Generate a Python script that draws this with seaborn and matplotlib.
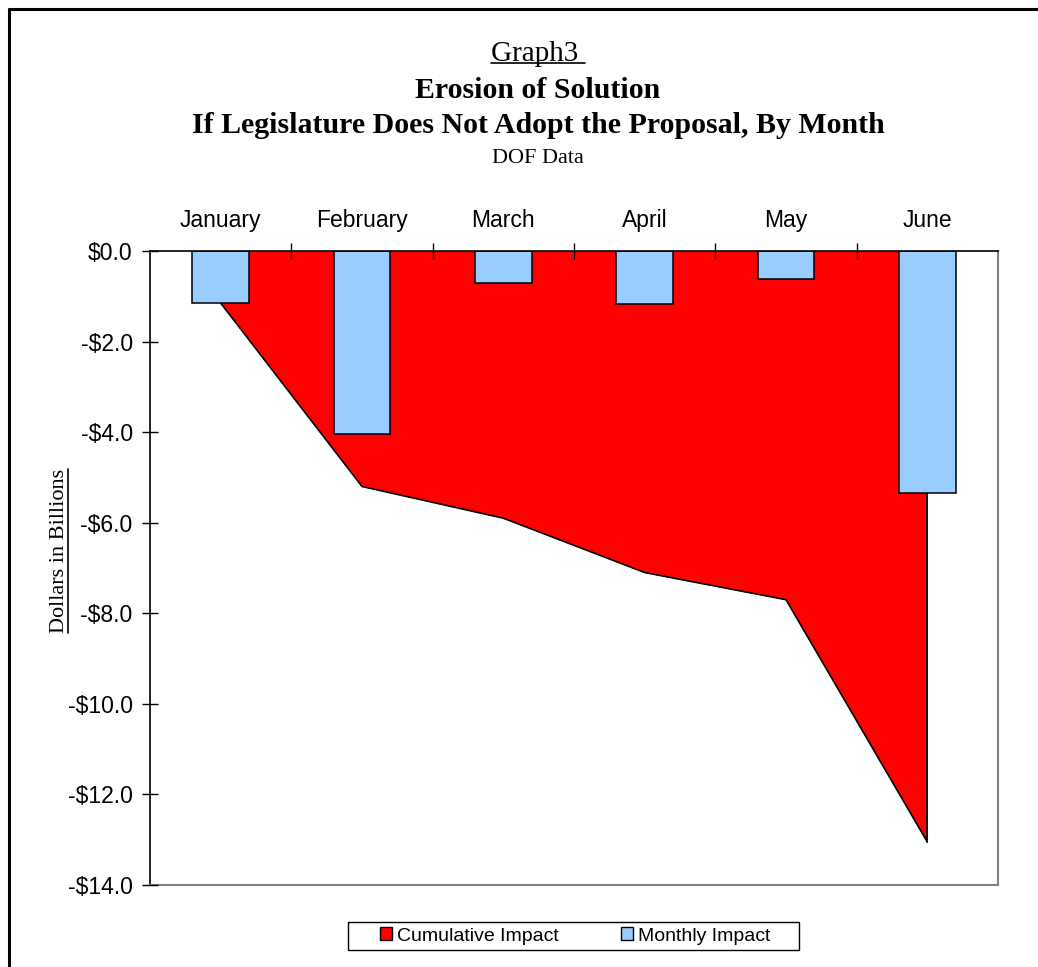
import matplotlib
matplotlib.use('Agg')
import matplotlib.pyplot as plt
from matplotlib.patches import Patch, Rectangle
from matplotlib.lines import Line2D
from matplotlib.ticker import FuncFormatter, FixedLocator
import seaborn as sns
import pandas as pd

# data (billions of dollars)
months = ['January', 'February', 'March', 'April', 'May', 'June']
monthly_impact = [-1.15, -4.05, -0.70, -1.17, -0.62, -5.35]
cumulative_impact = [-1.15, -5.20, -5.90, -7.10, -7.70, -13.05]

df = pd.DataFrame({'month': months, 'monthly': monthly_impact,
                   'cumulative': cumulative_impact, 'pos': range(len(months))})

sns.set_style('white')
plt.rcParams['font.family'] = ['Liberation Sans', 'DejaVu Sans']
plt.rcParams['text.color'] = 'black'
plt.rcParams['xtick.color'] = 'black'
plt.rcParams['ytick.color'] = 'black'
serif = ['Liberation Serif', 'DejaVu Serif']

fig = plt.figure(figsize=(10.38, 9.67), dpi=100)
ax = fig.add_axes([150/1038, 1 - 885/967, 848/1038, 634/967])

# cumulative area (drawn first so the bars sit on top)
ax.fill_between(df['pos'], df['cumulative'], 0, color='#FF0000', lw=0, zorder=1)
sns.lineplot(x='pos', y='cumulative', data=df, color='black', lw=1.2, ax=ax, zorder=2)
last = df['pos'].iloc[-1]
ax.plot([last, last], [df['cumulative'].iloc[-1], 0], color='black', lw=1.2, zorder=2)

# monthly bars
sns.barplot(x='month', y='monthly', data=df, color='#99CCFF', width=0.4,
            edgecolor='black', linewidth=1.1, saturation=1, ax=ax, zorder=3)

ax.set_xlim(-0.5, 5.5)
ax.set_ylim(-14, 0)
ax.set_yticks(range(-14, 1, 2))
ax.yaxis.set_major_formatter(FuncFormatter(
    lambda v, p: ('-$%.1f' % abs(v)) if v < 0 else '$%.1f' % v))
ax.tick_params(axis='y', direction='inout', length=11, width=1, labelsize=16.5,
               left=True, pad=7)

ax.xaxis.tick_top()
ax.set_xticks(range(len(months)))
ax.set_xticklabels(months)
ax.tick_params(axis='x', which='major', length=0, labelsize=16.5, pad=14)
ax.xaxis.set_minor_locator(FixedLocator([0.5, 1.5, 2.5, 3.5, 4.5]))
ax.tick_params(axis='x', which='minor', direction='inout', length=11, width=1,
               top=True, bottom=False)
ax.set_xlabel('')
ax.set_ylabel('')
ax.xaxis.set_zorder(4)
ax.yaxis.set_zorder(4)

for side in ['left', 'top']:
    ax.spines[side].set_color('black')
    ax.spines[side].set_linewidth(1.2)
for side in ['right', 'bottom']:
    ax.spines[side].set_color('#808080')
    ax.spines[side].set_linewidth(1.5)
ax.spines['top'].set_zorder(5)

# titles
cx = 538/1038
g = fig.text(cx, 1 - 61/967, 'Graph3 ', ha='center', va='baseline',
             fontsize=21, family=serif)
fig.text(cx, 1 - 98/967, 'Erosion of Solution', ha='center', va='baseline',
         fontsize=21.5, fontweight='bold', family=serif)
fig.text(cx, 1 - 133/967, 'If Legislature Does Not Adopt the Proposal, By Month',
         ha='center', va='baseline', fontsize=21.5, fontweight='bold', family=serif)
fig.text(cx, 1 - 163/967, 'DOF Data', ha='center', va='baseline',
         fontsize=16, family=serif)
ylab = fig.text(60/1038, 1 - 551/967, 'Dollars in Billions', ha='center', va='center',
                rotation=90, fontsize=16, family=serif)

# underlines for "Graph3" and axis label
fig.canvas.draw()
r = fig.canvas.get_renderer()
bb = g.get_window_extent(r).transformed(fig.transFigure.inverted())
fig.add_artist(Line2D([bb.x0, bb.x1], [1 - 63/967, 1 - 63/967], color='black', lw=1.2,
                      transform=fig.transFigure))
bb = ylab.get_window_extent(r).transformed(fig.transFigure.inverted())
fig.add_artist(Line2D([bb.x1 - 0.001, bb.x1 - 0.001], [bb.y0, bb.y1], color='black', lw=1.2,
                      transform=fig.transFigure))

# legend (frame drawn separately to get the wide side padding)
fig.add_artist(Rectangle((348/1038, 1 - 950/967), 451/1038, 28/967, facecolor='white',
                         edgecolor='black', lw=1.0, transform=fig.transFigure, zorder=1))
handles = [Patch(facecolor='#FF0000', edgecolor='black', label='Cumulative Impact'),
           Patch(facecolor='#99CCFF', edgecolor='black', label='Monthly Impact')]
leg = fig.legend(handles=handles, loc='center', bbox_to_anchor=(575/1038, 1 - 936/967),
                 ncol=2, fontsize=14, frameon=False,
                 handlelength=0.62, handleheight=0.62, handletextpad=0.26,
                 columnspacing=3.2, borderpad=0.2, borderaxespad=0)
leg.set_zorder(2)

# page border (top and left)
fig.add_artist(Line2D([8.5/1038, 1], [1 - 8.5/967, 1 - 8.5/967], color='black', lw=2.2,
                      transform=fig.transFigure))
fig.add_artist(Line2D([8.5/1038, 8.5/1038], [0, 1 - 8.5/967], color='black', lw=2.2,
                      transform=fig.transFigure))

fig.savefig('out.png', dpi=100, facecolor='white')
